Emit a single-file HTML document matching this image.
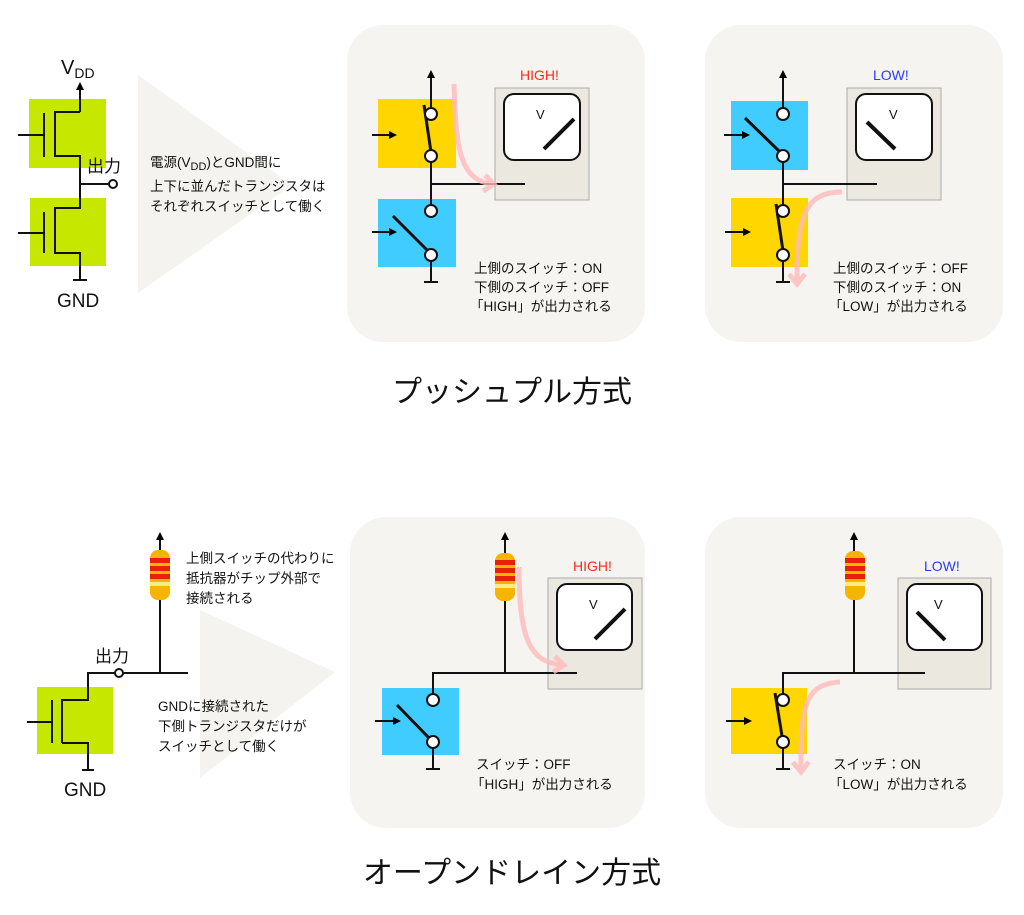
<!DOCTYPE html>
<html><head><meta charset="utf-8"><style>
html,body{margin:0;padding:0;background:#fff;}
svg{display:block;}
text{font-family:"Liberation Sans","Noto Sans CJK JP",sans-serif;fill:#111;}
.s{font-size:13.5px;}
</style></head><body>
<svg width="1024" height="915" viewBox="0 0 1024 915" xmlns="http://www.w3.org/2000/svg">
<defs>
<marker id="ah" markerWidth="8" markerHeight="8" refX="4" refY="4" orient="auto" markerUnits="userSpaceOnUse"><path d="M0,0 L8,4 L0,8 Z" fill="#000"/></marker>
<marker id="pa" markerWidth="20" markerHeight="20" refX="10" refY="10" orient="auto" markerUnits="userSpaceOnUse"><path d="M2,2 L12,10 L2,18" fill="none" stroke="#fbb" stroke-width="5"/></marker>
</defs>

<!-- ===== TOP LEFT ===== -->
<polygon points="138,75 292,185 138,293" fill="#f4f3f0"/>
<rect x="29" y="99" width="77" height="69" fill="#c6e800"/>
<rect x="30" y="198" width="76" height="68" fill="#c6e800"/>
<g stroke="#111" stroke-width="2" fill="none">
<line x1="80" y1="112" x2="80" y2="86" marker-end="url(#ah)"/>
<polyline points="80,112 55,112 55,156 80,156 80,208 55,208 55,253 80,253 80,280"/>
<line x1="73" y1="280" x2="87" y2="280"/>
<line x1="44" y1="113" x2="44" y2="157"/>
<line x1="18" y1="135" x2="44" y2="135"/>
<line x1="44" y1="212" x2="44" y2="253"/>
<line x1="18" y1="233" x2="44" y2="233"/>
<line x1="80" y1="184" x2="109" y2="184"/>
<circle cx="113" cy="184" r="4" fill="#fff"/>
</g>
<text x="61" y="74" font-size="20">V<tspan font-size="14" dy="4">DD</tspan></text>
<text x="87" y="172" font-size="17">出力</text>
<text x="57" y="307" font-size="19">GND</text>
<text x="150" y="167" class="s">電源(V<tspan font-size="11" dy="3">DD</tspan><tspan dy="-3">)とGND間に</tspan></text>
<text x="150" y="191" class="s">上下に並んだトランジスタは</text>
<text x="150" y="211" class="s">それぞれスイッチとして働く</text>

<!-- ===== PANEL 1 ===== -->
<rect x="347" y="25" width="298" height="317" rx="36" fill="#f5f4f1"/>
<rect x="378" y="99" width="78" height="69" fill="#ffd600"/>
<rect x="378" y="199" width="78" height="68" fill="#40ccff"/>
<rect x="495" y="88" width="94" height="112" fill="#ebe8e0" stroke="#aaa"/>
<rect x="504" y="94" width="76" height="66" rx="10" fill="#fff" stroke="#111" stroke-width="2"/>
<text x="536" y="119" font-size="13">V</text>
<line x1="544" y1="149" x2="574" y2="119" stroke="#111" stroke-width="4"/>
<text x="520" y="80" font-size="14" style="fill:#ff2a1a">HIGH!</text>
<g stroke="#111" stroke-width="2" fill="none">
<line x1="431" y1="114" x2="431" y2="74" marker-end="url(#ah)"/>
<line x1="431" y1="156" x2="431" y2="211"/>
<line x1="431" y1="184" x2="525" y2="184"/>
<line x1="431" y1="255" x2="431" y2="282"/>
<line x1="424" y1="282" x2="438" y2="282"/>
<line x1="372" y1="135" x2="393" y2="135" marker-end="url(#ah)"/>
<line x1="372" y1="232" x2="393" y2="232" marker-end="url(#ah)"/>
<line x1="424" y1="105" x2="431" y2="152" stroke-width="3"/>
<line x1="393" y1="216" x2="428" y2="251" stroke-width="3"/>
<circle cx="431" cy="114" r="6" fill="#fff"/>
<circle cx="431" cy="156" r="6" fill="#fff"/>
<circle cx="431" cy="211" r="6" fill="#fff"/>
<circle cx="431" cy="255" r="6" fill="#fff"/>
</g>
<path d="M454,84 C456,150 460,180 492,184" fill="none" stroke="#fbb" stroke-width="5" opacity="0.8" marker-end="url(#pa)"/>
<text x="474" y="273" class="s">上側のスイッチ：ON</text>
<text x="474" y="292" class="s">下側のスイッチ：OFF</text>
<text x="470" y="311" class="s">「HIGH」が出力される</text>

<!-- ===== PANEL 2 ===== -->
<rect x="705" y="25" width="298" height="317" rx="36" fill="#f5f4f1"/>
<rect x="731" y="101" width="77" height="69" fill="#40ccff"/>
<rect x="731" y="198" width="77" height="69" fill="#ffd600"/>
<rect x="847" y="88" width="94" height="112" fill="#ebe8e0" stroke="#aaa"/>
<rect x="856" y="94" width="76" height="66" rx="10" fill="#fff" stroke="#111" stroke-width="2"/>
<text x="889" y="119" font-size="13">V</text>
<line x1="867" y1="122" x2="895" y2="149" stroke="#111" stroke-width="4"/>
<text x="873" y="80" font-size="14" style="fill:#2a3cff">LOW!</text>
<g stroke="#111" stroke-width="2" fill="none">
<line x1="783" y1="114" x2="783" y2="74" marker-end="url(#ah)"/>
<line x1="783" y1="156" x2="783" y2="211"/>
<line x1="783" y1="184" x2="877" y2="184"/>
<line x1="783" y1="255" x2="783" y2="282"/>
<line x1="776" y1="282" x2="790" y2="282"/>
<line x1="724" y1="135" x2="746" y2="135" marker-end="url(#ah)"/>
<line x1="725" y1="232" x2="747" y2="232" marker-end="url(#ah)"/>
<line x1="745" y1="118" x2="780" y2="152" stroke-width="3"/>
<line x1="776" y1="204" x2="783" y2="251" stroke-width="3"/>
<circle cx="783" cy="114" r="6" fill="#fff"/>
<circle cx="783" cy="156" r="6" fill="#fff"/>
<circle cx="783" cy="211" r="6" fill="#fff"/>
<circle cx="783" cy="255" r="6" fill="#fff"/>
</g>
<path d="M842,192 C805,192 797,215 797,282" fill="none" stroke="#fbb" stroke-width="5" opacity="0.8" marker-end="url(#pa)"/>
<text x="833" y="273" class="s">上側のスイッチ：OFF</text>
<text x="833" y="292" class="s">下側のスイッチ：ON</text>
<text x="829" y="311" class="s">「LOW」が出力される</text>

<text x="512" y="402" font-size="30" text-anchor="middle">プッシュプル方式</text>

<!-- ===== BOTTOM LEFT ===== -->
<polygon points="200,610 335,672 200,778" fill="#f4f3f0"/>
<rect x="37" y="687" width="76" height="67" fill="#c6e800"/>
<g stroke="#111" stroke-width="2" fill="none">
<line x1="52" y1="700" x2="52" y2="743"/>
<line x1="27" y1="722" x2="52" y2="722"/>
<polyline points="62,743 62,700 88,700 88,673 115,673"/>
<polyline points="62,743 88,743 88,770"/>
<line x1="82" y1="770" x2="94" y2="770"/>
<line x1="123" y1="673" x2="188" y2="673"/>
<circle cx="119" cy="673" r="4" fill="#fff"/>
<line x1="160" y1="673" x2="160" y2="598"/>
<line x1="160" y1="552" x2="160" y2="536" marker-end="url(#ah)"/>
</g>
<g>
<rect x="150" y="550" width="20" height="50" rx="8" fill="#f5b400"/>
<rect x="150" y="558" width="20" height="5" fill="#e8200a"/>
<rect x="150" y="566" width="20" height="5" fill="#e8200a"/>
<rect x="150" y="574" width="20" height="5" fill="#e8200a"/>
<rect x="150" y="582" width="20" height="4" fill="#ffe98a"/>
</g>
<text x="95" y="662" font-size="17">出力</text>
<text x="64" y="796" font-size="19">GND</text>
<text x="186" y="563" class="s">上側スイッチの代わりに</text>
<text x="186" y="583" class="s">抵抗器がチップ外部で</text>
<text x="186" y="603" class="s">接続される</text>
<text x="158" y="711" class="s">GNDに接続された</text>
<text x="158" y="731" class="s">下側トランジスタだけが</text>
<text x="158" y="751" class="s">スイッチとして働く</text>

<!-- ===== PANEL 3 ===== -->
<rect x="350" y="517" width="295" height="311" rx="36" fill="#f5f4f1"/>
<rect x="382" y="688" width="77" height="67" fill="#40ccff"/>
<rect x="548" y="578" width="94" height="111" fill="#ebe8e0" stroke="#aaa"/>
<rect x="557" y="584" width="75" height="66" rx="10" fill="#fff" stroke="#111" stroke-width="2"/>
<text x="589" y="609" font-size="13">V</text>
<line x1="595" y1="639" x2="625" y2="609" stroke="#111" stroke-width="4"/>
<text x="573" y="571" font-size="14" style="fill:#ff2a1a">HIGH!</text>
<g stroke="#111" stroke-width="2" fill="none">
<line x1="505" y1="600" x2="505" y2="673"/>
<line x1="505" y1="553" x2="505" y2="536" marker-end="url(#ah)"/>
<polyline points="433,700 433,673 577,673"/>
<line x1="433" y1="742" x2="433" y2="769"/>
<line x1="426" y1="769" x2="440" y2="769"/>
<line x1="375" y1="721" x2="397" y2="721" marker-end="url(#ah)"/>
<line x1="397" y1="705" x2="429" y2="738" stroke-width="3"/>
<circle cx="433" cy="700" r="6" fill="#fff"/>
<circle cx="433" cy="742" r="6" fill="#fff"/>
</g>
<rect x="495" y="553" width="20" height="48" rx="8" fill="#f5b400"/>
<rect x="495" y="560" width="20" height="5" fill="#e8200a"/>
<rect x="495" y="568" width="20" height="5" fill="#e8200a"/>
<rect x="495" y="576" width="20" height="5" fill="#e8200a"/>
<rect x="495" y="584" width="20" height="4" fill="#ffe98a"/>
<path d="M519,567 C519,640 530,662 562,665" fill="none" stroke="#fbb" stroke-width="5" opacity="0.8" marker-end="url(#pa)"/>
<text x="476" y="769" class="s">スイッチ：OFF</text>
<text x="471" y="789" class="s">「HIGH」が出力される</text>

<!-- ===== PANEL 4 ===== -->
<rect x="705" y="517" width="298" height="311" rx="36" fill="#f5f4f1"/>
<rect x="731" y="688" width="76" height="66" fill="#ffd600"/>
<rect x="898" y="578" width="93" height="111" fill="#ebe8e0" stroke="#aaa"/>
<rect x="907" y="584" width="75" height="66" rx="10" fill="#fff" stroke="#111" stroke-width="2"/>
<text x="934" y="609" font-size="13">V</text>
<line x1="917" y1="612" x2="945" y2="640" stroke="#111" stroke-width="4"/>
<text x="924" y="571" font-size="14" style="fill:#2a3cff">LOW!</text>
<g stroke="#111" stroke-width="2" fill="none">
<line x1="854" y1="600" x2="854" y2="673"/>
<line x1="854" y1="553" x2="854" y2="536" marker-end="url(#ah)"/>
<polyline points="783,700 783,673 925,673"/>
<line x1="783" y1="742" x2="783" y2="769"/>
<line x1="776" y1="769" x2="790" y2="769"/>
<line x1="726" y1="721" x2="748" y2="721" marker-end="url(#ah)"/>
<line x1="775" y1="693" x2="782" y2="736" stroke-width="3"/>
<circle cx="783" cy="700" r="6" fill="#fff"/>
<circle cx="783" cy="742" r="6" fill="#fff"/>
</g>
<rect x="845" y="551" width="20" height="49" rx="8" fill="#f5b400"/>
<rect x="845" y="558" width="20" height="5" fill="#e8200a"/>
<rect x="845" y="566" width="20" height="5" fill="#e8200a"/>
<rect x="845" y="574" width="20" height="5" fill="#e8200a"/>
<rect x="845" y="582" width="20" height="4" fill="#ffe98a"/>
<path d="M840,682 C808,684 800,700 801,770" fill="none" stroke="#fbb" stroke-width="5" opacity="0.8" marker-end="url(#pa)"/>
<text x="833" y="769" class="s">スイッチ：ON</text>
<text x="829" y="789" class="s">「LOW」が出力される</text>

<text x="512" y="883" font-size="30" text-anchor="middle">オープンドレイン方式</text>
</svg>
</body></html>
